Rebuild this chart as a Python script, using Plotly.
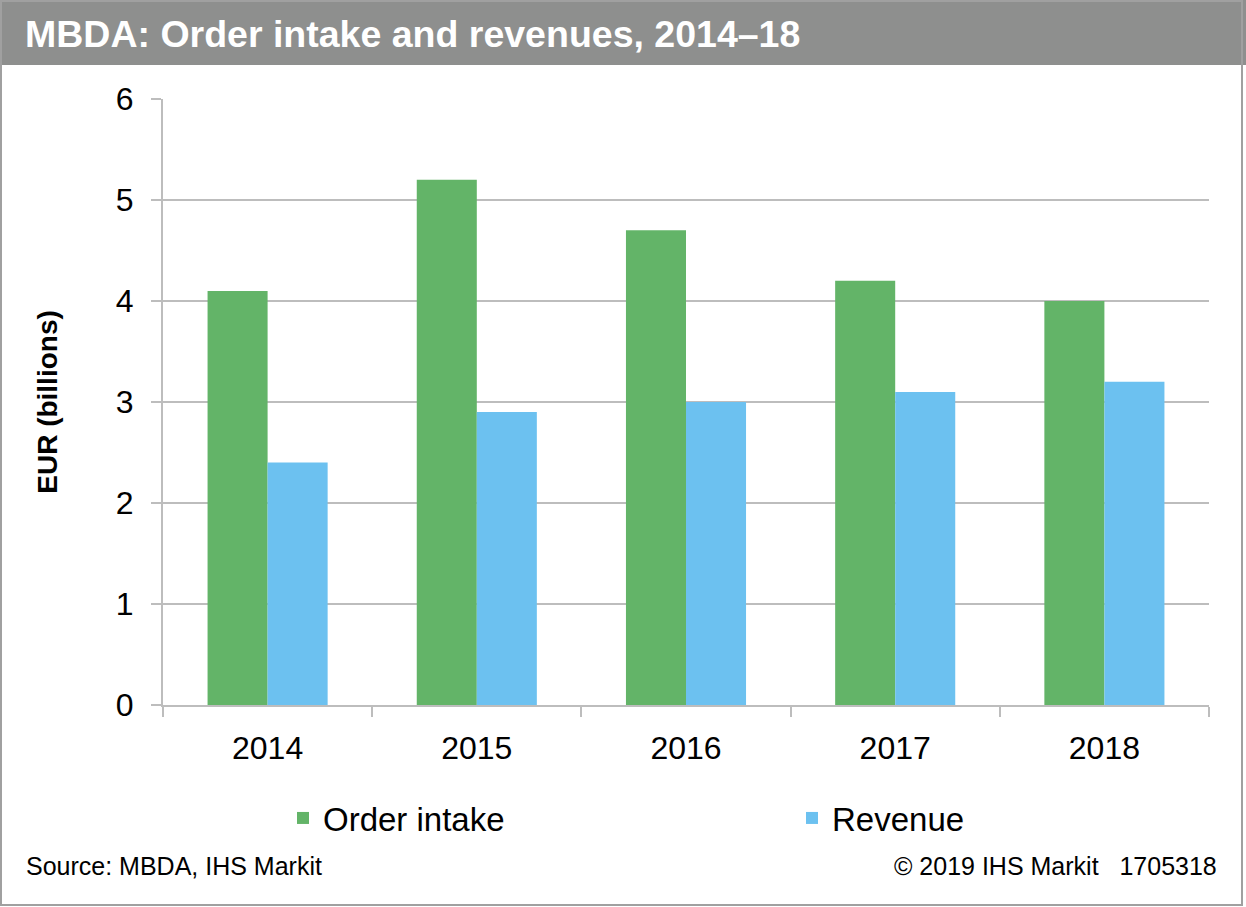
import plotly.graph_objects as go

# ---- data ----
years = ["2014", "2015", "2016", "2017", "2018"]
order_intake = [4.1, 5.2, 4.7, 4.2, 4.0]
revenue = [2.4, 2.9, 3.0, 3.1, 3.2]
y_ticks = [0, 1, 2, 3, 4, 5, 6]

title_text = "MBDA: Order intake and revenues, 2014–18"
source_text = "Source: MBDA, IHS Markit"
copyright_text = "© 2019 IHS Markit\u00a0\u00a0\u00a01705318"

# ---- layout geometry (pixels) ----
W, H = 1246, 907
PX0, PX1 = 163, 1209   # plot area left/right
PY0, PY1 = 99, 705     # plot area top/bottom


def px(x):
    return (x - PX0) / (PX1 - PX0)


def py(y):
    return (PY1 - y) / (PY1 - PY0)


FONT = "Liberation Sans, Arial, sans-serif"
GREEN = "#63b468"
BLUE = "#6cc1f0"
GRID = "#bdbdbd"

fig = go.Figure()
fig.add_trace(go.Bar(x=years, y=order_intake, name="Order intake",
                     marker=dict(color=GREEN, line=dict(width=0))))
fig.add_trace(go.Bar(x=years, y=revenue, name="Revenue",
                     marker=dict(color=BLUE, line=dict(width=0))))

fig.update_layout(
    width=W, height=H,
    margin=dict(l=PX0, r=W - PX1, t=PY0, b=H - PY1, autoexpand=False),
    paper_bgcolor="white", plot_bgcolor="white",
    font=dict(family=FONT, color="black"),
    barmode="group", bargap=0.426, bargroupgap=0,
    showlegend=True,
    legend=dict(orientation="h", x=px(283), xanchor="left",
                y=py(818), yanchor="middle",
                font=dict(size=33, family=FONT), entrywidth=464,
                bgcolor="rgba(0,0,0,0)", tracegroupgap=0),
    xaxis=dict(type="category", showgrid=False, showline=True,
               linecolor=GRID, linewidth=2, ticks="outside",
               tickson="boundaries", ticklen=10, tickcolor=GRID,
               tickwidth=2, tickfont=dict(size=32, family=FONT),
               ticklabelstandoff=14),
    yaxis=dict(range=[0, 6], tickvals=y_ticks, showgrid=True,
               gridcolor=GRID, gridwidth=2, showline=True,
               linecolor=GRID, linewidth=2, ticks="outside", ticklen=10,
               tickcolor=GRID, tickwidth=2, zeroline=False,
               tickfont=dict(size=32, family=FONT), ticklabelstandoff=11,
               title=dict(text="<b>EUR (billions)</b>",
                          font=dict(size=28, family=FONT), standoff=50)),
    shapes=[
        dict(type="rect", xref="paper", yref="paper",
             x0=px(0), x1=px(W), y0=py(65), y1=py(0),
             fillcolor="#8e8f8e", line=dict(width=0), layer="above"),
        dict(type="rect", xref="paper", yref="paper",
             x0=px(1), x1=px(1242), y0=py(905), y1=py(1),
             fillcolor="rgba(0,0,0,0)", line=dict(color="#a0a0a0", width=2),
             layer="above"),
    ],
    annotations=[
        dict(text="<b>" + title_text + "</b>", xref="paper", yref="paper",
             x=px(23), y=py(34), xanchor="left", yanchor="middle",
             showarrow=False, font=dict(size=37.5, color="white", family=FONT)),
        dict(text=source_text, xref="paper", yref="paper",
             x=px(24), y=py(866), xanchor="left", yanchor="middle",
             showarrow=False, font=dict(size=25, family=FONT)),
        dict(text=copyright_text, xref="paper", yref="paper",
             x=px(1219), y=py(866), xanchor="right", yanchor="middle",
             showarrow=False, font=dict(size=25, family=FONT)),
    ],
)

fig.write_html(
    "out.html",
    config={"displayModeBar": False},
    post_script="document.body.style.margin='0';document.body.style.padding='0';",
)
